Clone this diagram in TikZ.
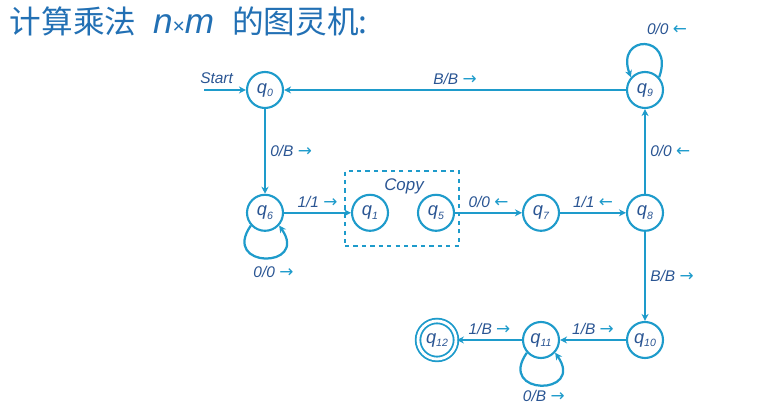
\documentclass[tikz,border=0pt]{standalone}
\usepackage{fontspec}
\setmainfont{Liberation Sans}
\newfontfamily\cjk{Noto Sans CJK SC}
\newfontfamily\arrowfont{DejaVu Sans}
\usetikzlibrary{automata,positioning,arrows.meta}
\definecolor{tmline}{HTML}{1E9BCB}
\definecolor{tmtext}{HTML}{2A5593}
\definecolor{tmtitle}{HTML}{2270B4}
\newcommand{\mv}[1]{\textcolor{tmline}{\upshape\arrowfont\fontsize{12}{12}\selectfont#1}}
\newcommand{\R}{\mv{→}}
\newcommand{\Lf}{\mv{←}}
\newcommand{\st}[1]{q\raisebox{-2.5pt}{\fontsize{7.5}{8}\selectfont#1}}
\tikzset{
    >={Stealth[length=5pt,width=5pt]},
    every edge/.style={draw=tmline,->,line width=1.6pt},
    every loop/.style={draw=tmline,->,line width=1.6pt}
}

\begin{document}
\begin{tikzpicture}[shorten >=0pt,auto,
                    state/.style={circle,draw=tmline,line width=1.5pt,minimum size=0.9cm,inner sep=0pt,
                                  text=tmtext,font=\fontsize{13}{14}\selectfont\itshape},
                    accepting/.style={double=white,double distance=2pt,line width=1.3pt,minimum size=0.95cm},
                    lbl/.style={text=tmtext,font=\fontsize{11}{13}\selectfont\itshape,inner sep=3pt},
                    selfloop/.style={looseness=4.8},
                    copybox/.style={draw=tmline,dashed,line width=1pt,minimum width=2.85cm,minimum height=1.875cm}]
\useasboundingbox (0,0) rectangle (19.2,10.4);

% Title
\node[anchor=west,text=tmtitle,font=\fontsize{22.5}{27}\selectfont] (title) at (0.12,9.85)
    {\cjk 计算乘法\hspace{0.42cm}\rmfamily\itshape\fontsize{25}{27}\selectfont n{\upshape\fontsize{15}{15}\selectfont×}m\hspace{0.45cm}\cjk\fontsize{22.5}{27}\selectfont 的图灵机:};

% States
\node[state] (q0) at (6.625,8.15) {\st{0}};
\node[state] (q6) at (6.625,5.08) {\st{6}};
\node[state] (q1) at (9.25,5.08) {\st{1}};
\node[state] (q5) at (10.9,5.08) {\st{5}};
\node[state] (q7) at (13.525,5.08) {\st{7}};
\node[state] (q8) at (16.125,5.08) {\st{8}};
\node[state] (q9) at (16.125,8.15) {\st{9}};
\node[state] (q10) at (16.125,1.9) {\st{10}};
\node[state] (q11) at (13.525,1.9) {\st{11}};
\node[state,accepting] (q12) at (10.925,1.9) {\st{12}};

% Copy block
\node[copybox] (copy) at (10.05,5.19) {};
\node[lbl,font=\fontsize{12}{14}\selectfont\itshape] (copylbl) at (10.1,5.75) {Copy};

% Start
\coordinate (start) at (5.1,8.15);
\draw[tmline,->,line width=1.6pt] (start) -- node[lbl,above,pos=0.3,yshift=1pt] {Start} (q0);

% Transitions
\path (q0) edge node[lbl] {0/B \R} (q6);
\path (q9) edge node[lbl,swap] {B/B \R} (q0);
\path (q6) edge node[lbl] {1/1 \R} (q1);
\path (q6.222) edge [selfloop,out=235,in=305] node[lbl,swap,xshift=6pt,yshift=-2pt] {0/0 \R} (q6.318);
\path (q5) edge node[lbl] {0/0 \Lf} (q7);
\path (q7) edge node[lbl] {1/1 \Lf} (q8);
\path (q8) edge node[lbl,swap] {0/0 \Lf} (q9);
\path (q9.42) edge [selfloop,looseness=4.2,out=70,in=110] node[lbl,swap,xshift=0.55cm,yshift=3pt] {0/0 \Lf} (q9.138);
\path (q8) edge node[lbl] {B/B \R} (q10);
\path (q10) edge node[lbl,swap] {1/B \R} (q11);
\path (q11.222) edge [selfloop,out=235,in=305] node[lbl,swap,xshift=2pt] {0/B \R} (q11.318);
\path (q11) edge node[lbl,swap] {1/B \R} (q12);

\end{tikzpicture}
\end{document}
